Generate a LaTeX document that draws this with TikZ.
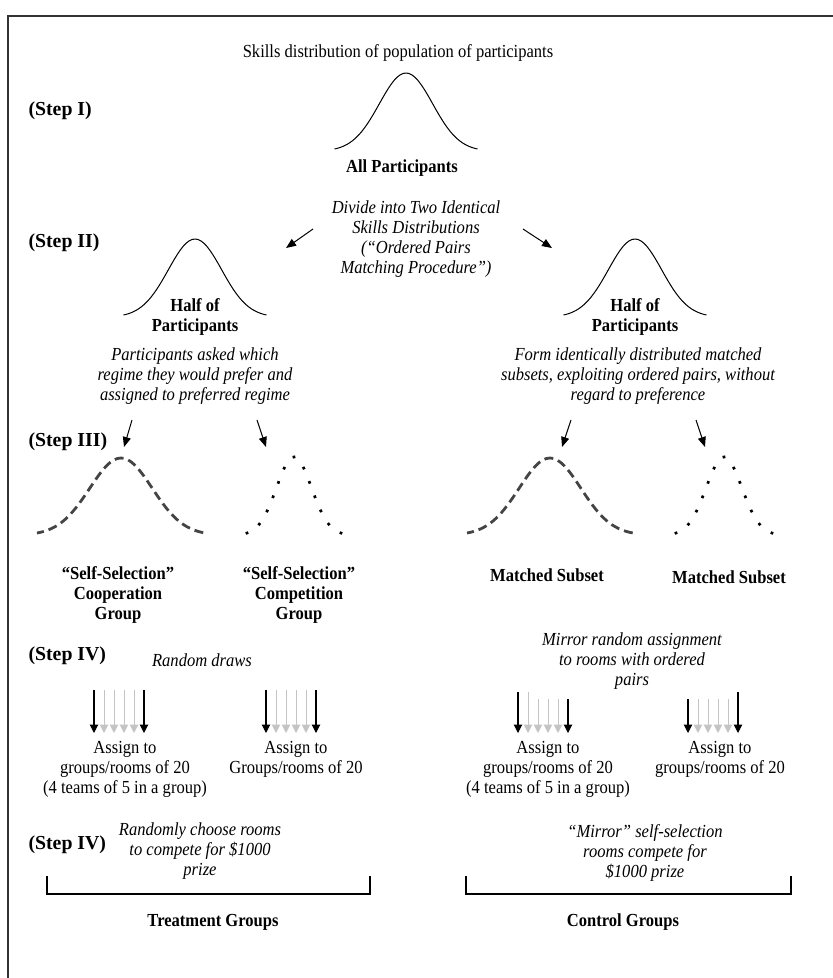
\documentclass[tikz,border=0pt]{standalone}
\usepackage{fontspec}
\setmainfont{Liberation Serif}
\newfontfamily\narrowserif{Liberation Serif}[FakeStretch=0.9]
\usetikzlibrary{arrows.meta,decorations.markings}
\definecolor{dgray}{HTML}{444444}
\definecolor{lgray}{HTML}{C4C4C4}
\definecolor{framegray}{HTML}{333333}
\newcommand{\bodysize}{\narrowserif\fontsize{18.4}{20}\selectfont}
\newcommand{\stepsize}{\fontsize{19.8}{22}\selectfont}
% bell curve: [style]{centre x}{base y}{half width}{height}
\newcommand{\bellcurve}[5][]{%
  \draw[smooth,#1] plot[domain=-1:1,samples=49]
    ({#2+#4*\x},{#3-#5*(exp(-3.6*(\x)*(\x))-0.0273)/0.9727});}
\tikzset{
  steplabel/.style={anchor=west,font=\stepsize\bfseries},
  boldlbl/.style={align=center,font=\bodysize\bfseries},
  notelbl/.style={align=center,font=\bodysize\itshape},
  plainlbl/.style={align=center,font=\bodysize},
  arr/.style={-{Triangle[length=10pt,width=8pt]},line width=1pt},
  blackdraw/.style={-{Triangle[length=8.5pt,width=8.5pt]},line width=1.1pt},
  graydraw/.style={-{Triangle[length=8.5pt,width=8.5pt]},line width=1pt,draw=lgray,fill=lgray},
  dashbell/.style={line width=2.8pt,draw=dgray,dash pattern=on 9pt off 5pt,dash phase=2pt},
  dotbell/.style={sharp plot,draw=none,postaction={decorate},
    decoration={markings,mark=between positions 0 and 1 step 0.08333 with
      {\fill (-1.35pt,-1.35pt) rectangle (1.35pt,1.35pt);}}},
  bracket/.style={line width=1.4pt}
}
\begin{document}
\begin{tikzpicture}[x=1pt,y=-1pt]
\useasboundingbox (0,0) rectangle (833,978);
\draw[line width=1.5pt,framegray] (8,978) -- (8,16) -- (833,16);

% Step I
\node[plainlbl] (title) at (398,53) {Skills distribution of population of participants};
\node[steplabel] (s1) at (25,111) {(Step I)};
\bellcurve[line width=1pt]{406}{149}{71.5}{76}
\node[boldlbl] (allp) at (402,168) {All Participants};

% Step II
\node[notelbl] (divide) at (416,239) {Divide into Two Identical\\Skills Distributions\\(“Ordered Pairs\\Matching Procedure”)};
\node[steplabel] (s2) at (25,243) {(Step II)};
\coordinate (splitL0) at (313,229);
\coordinate (splitL1) at (286,248);
\coordinate (splitR0) at (523,229);
\coordinate (splitR1) at (552,248);
\draw[arr] (splitL0) -- (splitL1);
\draw[arr] (splitR0) -- (splitR1);
\bellcurve[line width=1pt]{195}{315}{71.5}{76}
\bellcurve[line width=1pt]{635}{315}{71.5}{76}
\node[boldlbl] (halfL) at (195,316.5) {Half of\\Participants};
\node[boldlbl] (halfR) at (635,316.5) {Half of\\Participants};
\node[notelbl] (askL) at (195,376) {Participants asked which\\regime they would prefer and\\assigned to preferred regime};
\node[notelbl] (formR) at (638,376) {Form identically distributed matched\\subsets, exploiting ordered pairs, without\\regard to preference};

% Step III
\node[steplabel] (s3) at (25,442) {(Step III)};
\coordinate (coopA) at (132,420);
\coordinate (coopB) at (124,447);
\coordinate (compA) at (257,420);
\coordinate (compB) at (266,447);
\coordinate (matchA) at (571,420);
\coordinate (matchB) at (562,447);
\coordinate (matchC) at (696,420);
\coordinate (matchD) at (705,447);
\draw[arr] (coopA) -- (coopB);
\draw[arr] (compA) -- (compB);
\draw[arr] (matchA) -- (matchB);
\draw[arr] (matchC) -- (matchD);
\bellcurve[dashbell]{121}{533}{84}{75}
\bellcurve[dotbell]{294}{533}{47}{76}
\bellcurve[dashbell]{550}{533}{83}{75}
\bellcurve[dotbell]{724}{533}{48}{76}
\node[boldlbl] (coop) at (118,595) {“Self-Selection”\\Cooperation\\Group};
\node[boldlbl] (comp) at (299,595) {“Self-Selection”\\Competition\\Group};
\node[boldlbl] (subL) at (547,575) {Matched Subset};
\node[boldlbl] (subR) at (729,577) {Matched Subset};

% Step IV
\node[steplabel] (s4) at (25,656) {(Step IV)};
\node[notelbl] (draws) at (202,660) {Random draws};
\node[notelbl] (mirror) at (632,661) {Mirror random assignment\\to rooms with ordered\\pairs};
\foreach \bx/\tops [count=\k] in {94/{690,690,690,690,690,690},
    266/{690,690,690,690,690,690},
    518/{692,692,699,699,699,699},
    688/{699,699,699,699,699,692}} {
  \foreach \ty [count=\i from 0] in \tops {
    \coordinate (top\k-\i) at (\bx+10*\i,\ty);
    \coordinate (tip\k-\i) at (\bx+10*\i,733);
  }
  \foreach \i in {1,...,4}
    \draw[graydraw] (top\k-\i) -- (tip\k-\i);
  \foreach \i in {0,5}
    \draw[blackdraw] (top\k-\i) -- (tip\k-\i);
}
\node[plainlbl] (assign1) at (125,769) {Assign to\\groups/rooms of 20\\(4 teams of 5 in a group)};
\node[plainlbl] (assign2) at (296,759) {Assign to\\Groups/rooms of 20};
\node[plainlbl] (assign3) at (548,769) {Assign to\\groups/rooms of 20\\(4 teams of 5 in a group)};
\node[plainlbl] (assign4) at (720,759) {Assign to\\groups/rooms of 20};

% Step IV (prize)
\node[steplabel] (s5) at (25,845) {(Step IV)};
\node[notelbl] (choose) at (200,851) {Randomly choose rooms\\to compete for \$1000\\prize};
\node[notelbl] (mirror2) at (645,853) {“Mirror” self-selection\\rooms compete for\\\$1000 prize};
\draw[bracket] (47,876) -- (47,894) -- (370,894) -- (370,876);
\draw[bracket] (466,876) -- (466,894) -- (791,894) -- (791,876);
\node[boldlbl] (treat) at (213,922) {Treatment Groups};
\node[boldlbl] (control) at (623,922) {Control Groups};
\end{tikzpicture}
\end{document}
